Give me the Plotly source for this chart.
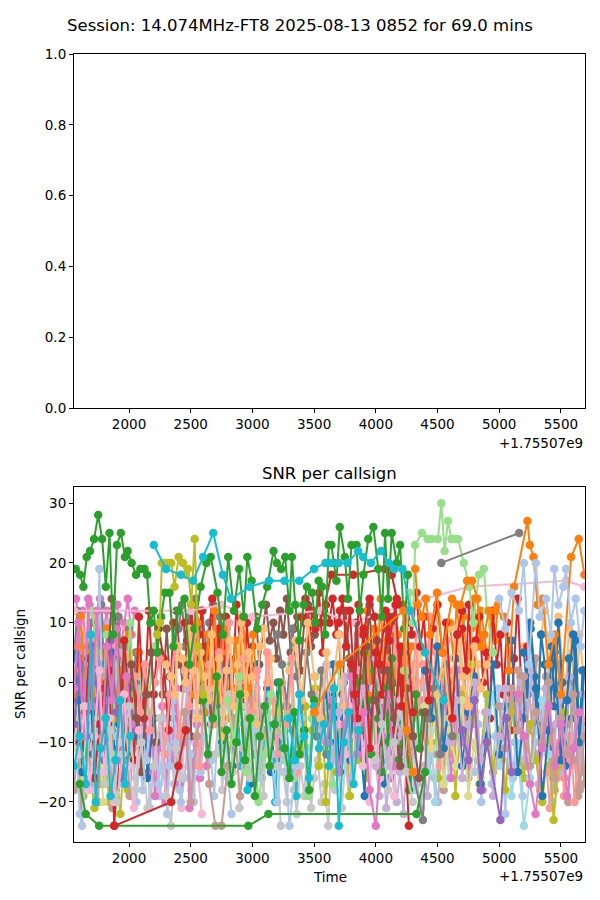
import plotly.graph_objects as go

# FT8 session decodes: time offsets (s, relative to 1.75507e9) and SNR (dB) per callsign
TIME_OFFSET_TEXT = "+1.75507e9"
TITLE = "Session: 14.074MHz-FT8 2025-08-13 0852 for 69.0 mins"

X_TICKS = [2000, 2500, 3000, 3500, 4000, 4500, 5000, 5500]
X_RANGE = [1554, 5698]
SNR_TICKS = [-20, -10, 0, 10, 20, 30]
SNR_RANGE = [-26.7, 32.7]
TOP_TICKS = [0.0, 0.2, 0.4, 0.6, 0.8, 1.0]

TAB20 = ['#1f77b4', '#aec7e8', '#ff7f0e', '#ffbb78', '#2ca02c', '#98df8a',
         '#d62728', '#ff9896', '#9467bd', '#c5b0d5', '#8c564b', '#c49c94',
         '#e377c2', '#f7b6d2', '#7f7f7f', '#c7c7c7', '#bcbd22', '#dbdb8d',
         '#17becf', '#9edae5']

CALLSIGNS = [
    'IK2NCJ', 'EA8TL', 'DL8JJ', 'G4DDL', 'F5RAV', 'ON3DI', 'OK1TN', 'SP1NY',
    'DL5YM', 'G3XTT', 'F8DGY', 'IK4QJF', 'EA4DRV', 'OK1DOY', 'SP7VC', 'PA7MM',
    'EA7KW', 'JA1XYZ', 'DL2ABC', 'G4KLM', 'IK0FTA', 'OH2BV', 'SP9MRT', 'F5NZY',
    'ON4WW', 'PA3DVN', 'OK1FMU', 'HB9CRQ', 'YO3GGX', 'UR5QW', 'LZ1ND', 'S57AA',
    'EA3HKX', 'DK9PW', 'SM5TYU', 'OE6JMD', 'I2VGL', 'CT1ELR', '9A2DJ', 'EI7BA',
    'OZ1ACB', 'HA5PP', 'YU1RA', 'LY2BBF', 'ES1QD', 'YL2UZ', 'OM3KFF', 'IZ8DPL',
    'SV1GRN', 'DJ7OO', 'GM3SEK', 'M0NWI', 'PD0JMH', 'F4GVO', 'EA1BTS', 'DF3XY',
    'OH8KN', 'SP5GDM', 'R2AQ', 'UA3SEV', 'TA1CX', '4X6UU', 'ZS6A', 'K1JT',
    'VE3NEA', 'DL1GBZ', 'G0ABC', 'F6DXE', 'IZ2OIK', 'EA5GL', 'OK2PVF', 'SP3GEM',
    'PA0RDT', 'ON7PQ', 'DK1MAX', 'HB9DHG', 'OE1VKW', 'S52AB', 'YO8RZJ', 'UR3LM',
    'LZ2HR', '9A5RB', 'EI4GNB', 'OZ7AM', 'HA8EK', 'YU7GM', 'LY1SR', 'ES5RY',
    'YL3AG', 'OM7AT', 'IW1QN', 'SV2BFN', 'DJ2YA', 'GM4FDM', 'M0OXO', 'PD1TV',
    'F4DXW',
]

COLOR_IDX = [
    14, 12, 10, 2, 3, 11, 13, 6,
    15, 9, 1, 7, 0, 8, 16, 11,
    7, 10, 3, 11, 6, 12, 1, 18, 2, 14, 9, 5, 16, 0, 11, 2,
    10, 3, 6, 11, 0, 9, 16, 19, 7, 15, 13, 4, 8, 12, 1, 17,
    0, 1, 2, 9, 5, 6, 7, 8,
    10, 11, 12, 13, 15, 14, 3, 16,
    17, 19, 0, 11, 9, 6, 3, 12,
    14, 8, 12, 7, 5, 18, 10, 1,
    4, 6, 3, 15, 13, 6, 6, 4,
    18, 4, 16, 5, 14, 2, 2, 1,
    18,
]

TIMES = [
    [2400, 2430, 2455, 2485, 2510, 2540, 2570, 2595, 2625, 2650, 2680, 2710, 2735, 2765, 2790],
    [1570, 1600, 1625, 1655, 1680, 1710, 1740, 1765, 1795, 1820, 1850, 1880, 1905, 1935, 1960, 1990, 2020, 2045],
    [3000, 3030, 3055, 3085, 3110, 3140, 3170, 3195, 3225, 3250, 3280, 3310, 3335, 3365, 3390, 3420, 3450, 3475, 3505, 3530],
    [4600, 4630, 4655, 4685, 4710, 4740, 4770, 4795, 4825, 4850, 4880, 4910, 4935, 4965, 4990],
    [5200, 5230, 5255, 5285, 5310, 5340, 5370, 5395, 5425, 5450, 5480, 5510, 5535, 5565, 5590, 5620, 5650, 5680],
    [5400, 5425, 5450, 5480, 5505, 5530, 5560, 5585, 5610, 5640, 5665, 5690],
    [2200, 2230, 2255, 2285, 2310, 2340, 2370, 2395, 2425, 2450, 2480, 2510, 2535, 2565, 2590],
    [3400, 3430, 3455, 3485, 3510, 3540, 3570, 3595, 3625, 3650, 3680, 3710],
    [3250, 3280, 3305, 3335, 3360, 3390, 3420, 3445, 3475, 3500, 3530, 3560, 3585, 3615, 3640, 3670, 3700, 3725, 3755, 3780],
    [4000, 4030, 4055, 4085, 4110, 4140, 4170, 4195, 4225, 4250, 4280, 4310, 4335, 4365, 4390, 4420, 4450, 4475, 4505, 4530],
    [2000, 2030, 2055, 2085, 2110, 2140, 2170, 2195, 2225, 2250, 2280, 2310, 2335, 2365, 2390, 2420, 2450, 2475, 2505, 2530],
    [5300, 5330, 5355, 5385, 5410, 5440, 5470, 5495, 5525, 5550, 5580, 5610, 5635, 5665, 5690],
    [2700, 2730, 2755, 2785, 2810, 2840, 2870, 2895, 2925, 2950, 2980, 3010, 3035, 3065, 3090, 3120, 3150, 3175, 3205, 3230],
    [3900, 3930, 3955, 3985, 4010, 4040, 4070, 4095, 4125, 4150, 4180, 4210, 4235, 4265, 4290],
    [1600, 1630, 1660, 1690, 1720, 1750, 1780, 1810, 1840, 1870, 1900, 1930, 1960, 1990, 2020],
    [4300, 4330, 4355, 4385, 4410, 4440, 4470, 4495, 4525, 4550, 4580, 4610, 4635, 4665, 4690, 4720, 4750, 4775, 4805, 4830],
    [1560, 1590, 1615, 1645, 1670, 1700, 1730, 1755, 1785, 1810, 1840, 1870, 1895, 1925, 1950, 1980, 2010, 2035, 2065, 2090],
    [2250, 2275, 2305, 2330, 2360, 2385, 2415, 2440, 2470, 2500, 2525, 2555, 2580, 2610, 2640, 2665, 2695, 2720, 2750, 2780],
    [1600, 1630, 1655, 1685, 1710, 1740, 1770, 1795, 1825, 1850, 1880, 1910, 1935, 1965, 1990, 2020, 2050, 2075, 2105, 2130],
    [1555, 1585, 1610, 1640, 1665, 1695, 1725, 1750, 1780, 1805, 1835, 1865, 1890, 1920, 1945, 1975, 2005, 2030, 2060, 2085],
    [2450, 2480, 2505, 2535, 2560, 2590, 2620, 2645, 2675, 2700, 2730, 2760, 2785, 2815, 2840, 2870, 2900, 2925, 2955, 2980],
    [2100, 2130, 2155, 2185, 2210, 2240, 2270, 2295, 2325, 2350, 2380, 2410, 2435, 2465, 2490, 2520, 2550, 2575, 2605, 2630],
    [2300, 2330, 2355, 2385, 2410, 2440, 2470, 2495, 2525, 2550, 2580, 2610, 2635, 2665, 2690, 2720, 2750, 2775, 2805, 2830],
    [2850, 2880, 2905, 2935, 2960, 2990, 3020, 3045, 3075, 3100, 3130, 3160, 3185, 3215, 3240, 3270, 3300, 3325, 3355, 3380],
    [2500, 2530, 2555, 2585, 2610, 2640, 2670, 2695, 2725, 2750, 2780, 2810, 2835, 2865, 2890, 2920, 2950, 2975, 3005, 3030],
    [1555, 1580, 1610, 1635, 1665, 1690, 1720, 1750, 1775, 1805, 1830, 1860, 1890, 1915, 1945, 1970, 2000, 2030, 2055, 2085],
    [1555, 1585, 1615, 1640, 1670, 1695, 1725, 1755, 1780, 1810, 1835, 1865, 1895, 1920, 1950, 1975, 2005, 2035, 2060, 2090],
    [3200, 3230, 3255, 3285, 3310, 3340, 3370, 3395, 3425, 3450, 3480, 3510, 3535, 3565, 3590, 3620, 3650, 3675, 3705, 3730],
    [3400, 3430, 3455, 3485, 3510, 3540, 3570, 3595, 3625, 3650, 3680, 3710, 3735, 3765, 3790, 3820, 3850, 3875, 3905, 3930],
    [3600, 3630, 3655, 3685, 3710, 3740, 3770, 3795, 3825, 3850, 3880, 3910, 3935, 3965, 3990, 4020, 4050, 4075, 4105, 4130],
    [3800, 3830, 3855, 3885, 3910, 3940, 3970, 3995, 4025, 4050, 4080, 4110, 4135, 4165, 4190, 4220, 4250, 4275, 4305, 4330],
    [3900, 3930, 3955, 3985, 4010, 4040, 4070, 4095, 4125, 4150, 4180, 4210, 4235, 4265, 4290],
    [3700, 3730, 3755, 3785, 3810, 3840, 3870, 3895, 3925, 3950, 3980, 4010, 4035, 4065, 4090, 4120, 4150, 4175, 4205, 4230],
    [4300, 4330, 4355, 4385, 4410, 4440, 4470, 4495, 4525, 4550, 4580, 4610, 4635, 4665, 4690, 4720, 4750, 4775, 4805, 4830],
    [4700, 4730, 4755, 4785, 4810, 4840, 4870, 4895, 4925, 4950, 4980, 5010, 5035, 5065, 5090, 5120, 5150, 5175, 5205, 5230],
    [5100, 5130, 5155, 5185, 5210, 5240, 5270, 5295, 5325, 5350, 5380, 5410, 5435, 5465, 5490, 5520, 5550, 5575, 5605, 5630, 5660, 5690],
    [5200, 5230, 5255, 5285, 5310, 5340, 5370, 5395, 5425, 5450, 5480, 5510, 5535, 5565, 5590, 5620, 5650, 5675],
    [5150, 5180, 5205, 5235, 5260, 5290, 5320, 5345, 5375, 5400, 5430, 5460, 5485, 5515, 5540, 5570, 5600, 5625, 5655, 5685],
    [4450, 4480, 4505, 4535, 4560, 4590, 4620, 4645, 4675, 4700, 4730, 4760, 4785, 4815, 4840],
    [4200, 4230, 4255, 4285, 4310, 4340, 4370, 4395, 4425, 4450, 4480, 4510, 4535, 4565, 4590],
    [4100, 4130, 4155, 4185, 4210, 4240, 4270, 4295, 4325, 4350, 4380, 4410, 4435, 4465, 4490, 4520, 4550, 4575, 4605, 4630],
    [2700, 2730, 2755, 2785, 2810, 2840, 2870, 2895, 2925, 2950, 2980, 3010, 3035, 3065, 3090, 3120, 3150, 3175, 3205, 3230],
    [3700, 3730, 3755, 3785, 3810, 3840, 3870, 3895, 3925, 3950, 3980, 4010, 4035, 4065, 4090, 4120, 4150, 4175, 4205, 4230],
    [3850, 3880, 3905, 3935, 3960, 3990, 4020, 4045, 4075, 4100, 4130, 4160, 4185, 4215, 4240, 4270, 4300, 4325, 4355, 4380],
    [1555, 1580, 1610, 1640, 1665, 1700, 1730, 1760],
    [4500, 4530, 4555, 4585, 4610, 4640, 4670, 4695, 4725, 4750, 4780, 4810, 4835, 4865, 4890],
    [4800, 4830, 4855, 4885, 4910, 4940, 4970, 4995, 5025, 5050, 5080, 5110, 5135, 5165, 5190],
    [1555, 1590, 1620, 1650, 1690, 1720, 1760, 1790],
    [1560, 1590, 1620, 1650, 1680, 1710, 1740, 1780, 1800, 1830, 1860, 1890, 1920, 1950, 1990, 2030, 2070, 2110, 2150, 2200],
    [1570, 1600, 1620, 1650, 1690, 1720, 1760, 1790, 1830, 1870, 1900, 1940, 1980, 2020, 2060, 2100, 2140, 2190, 2240, 2280],
    [1555, 1580, 1610, 1640, 1670, 1700, 1730, 1760, 1790, 1820, 1850, 1880, 1920, 1960, 2000, 2040, 2080, 2120],
    [3500, 3550, 3600, 3650, 3700, 3750, 3800, 3850, 3900, 3950, 4000, 4050, 4100, 4150, 4200, 4250, 4300],
    [1700, 1740, 1780, 1820, 1860, 1900, 1960, 2010, 2050, 2100, 2150, 2200],
    [1600, 1640, 1680, 1720, 1760, 1800, 1840, 1880, 1920, 1960, 2000, 2040, 2080, 2120, 2160, 2200, 2240, 2280, 2320, 2360],
    [2050, 2090, 2130, 2170, 2210, 2250, 2290, 2330, 2370, 2410, 2450, 2490, 2530, 2570, 2610, 2650, 2690, 2730, 2770, 2810, 2850, 2890, 2930, 2970],
    [1555, 1600, 1650, 1700, 1750, 1800, 1850, 1900, 1950, 2000, 2050],
    [1780, 1820, 1860, 1900, 1940, 1980, 2020, 2060, 2100, 2140, 2180, 2220],
    [2400, 2450, 2500, 2550, 2600, 2650, 2700, 2750, 2800, 2850, 2900, 2950, 3000, 3050, 3100],
    [1555, 1590, 1630, 1670, 1700, 1740, 1780, 1820, 1860, 1900, 1940, 1980, 2020],
    [1600, 1640, 1680, 1720, 1760, 1800, 1840, 1880, 1920, 1960, 2000, 2040, 2080],
    [1800, 1850, 1900, 1950, 2000, 2050, 2100, 2150, 2200, 2250, 2300, 2340, 2380, 2430],
    [3200, 3240, 3280, 3320, 3360, 3400, 3440, 3480, 3520, 3560, 3600, 3640],
    [2300, 2340, 2370, 2400, 2430, 2460, 2490, 2520, 2550, 2580, 2610, 2640, 2670, 2700, 2730, 2760, 2790, 2820, 2850, 2880, 2910, 2940, 2970, 3000, 3030, 3060, 3090, 3120, 3150, 3180],
    [4800, 4850, 4900, 4950, 5000, 5050, 5100, 5150, 5200, 5250, 5300, 5350, 5400, 5441, 5480, 5530],
    [4400, 4450, 4500, 4550, 4600, 4650, 4700, 4750, 4800, 4850, 4900],
    [4900, 4950, 5000, 5050, 5100, 5150, 5200, 5250, 5300, 5350, 5400],
    [4400, 4450, 4500, 4550, 4600, 4650, 4700, 4750, 4800, 4850, 4900, 4950, 5000, 5050, 5100, 5150, 5200, 5250, 5300, 5350, 5400, 5450, 5500, 5550, 5600, 5650, 5690],
    [5000, 5050, 5100, 5150, 5200, 5250, 5300, 5350, 5400, 5450, 5500, 5550, 5600, 5650, 5690],
    [4600, 4650, 4700, 4750, 4800, 4850, 4900, 4950, 5000, 5050, 5100],
    [3800, 3850, 3900, 3950, 4000, 4050, 4100, 4150, 4200, 4268],
    [3300, 3350, 3400, 3450, 3500, 3550, 3600, 3650, 3700, 3750],
    [3600, 3650, 3700, 3750, 3800, 3850, 3900, 3950, 4000, 4050, 4100, 4150],
    [4250, 4300, 4382, 4420, 4470, 4520, 4570, 4620],
    [4700, 4750, 4800, 4850, 4900, 5010, 5060, 5100],
    [5150, 5200, 5250, 5295, 5350, 5400, 5450, 5500, 5550, 5600, 5650],
    [3000, 3040, 3080, 3120, 3160, 3200, 3240, 3280, 3320, 3360],
    [2800, 2850, 2900, 2950, 3000, 3050, 3100, 3150],
    [1555, 1600, 1650, 1690, 1730, 1770, 1810, 1850, 1890, 1930, 1970, 2010],
    [4000, 4050, 4100, 4150, 4200, 4250, 4300, 4350, 4400],
    [3000, 3050, 3100, 3150, 3200, 3250, 3300, 3350, 3400, 3450],
    [1600, 1649, 1758, 2967, 3130, 4330, 4400],
    [1880, 2342, 2400, 2460],
    [4500, 4550, 4600, 4650, 4700, 4750, 4800, 4850, 4900],
    [4000, 4050, 4100, 4150, 4200, 4250, 4300],
    [1555, 2500, 2750, 3000, 3550, 3800, 4400, 4754, 5542, 5690],
    [3550, 3640, 3817, 4075, 4129, 4170, 4200, 4250, 4300],
    [3700, 3730, 3760, 3790, 3830, 3860, 3900, 3950, 3990, 4030, 4080, 4110, 4160, 4210, 4260, 4290, 4330, 4360, 4390, 4430, 4460, 4500, 4540, 4570, 4620, 4660, 4700],
    [2600, 2640, 2680, 2710, 2750, 2790, 2830, 2870, 2900, 2940, 2980, 3020, 3060, 3100, 3140, 3180, 3220, 3260, 3300, 3340, 3380, 3420, 3460, 3500],
    [3300, 3340, 3380, 3420, 3460, 3500, 3540, 3580, 3620, 3660, 3700, 3740, 3780, 3820, 3860],
    [1555, 1568, 1603, 1630, 1657, 1684, 1717, 1750, 1782, 1812, 1842, 1870, 1902, 1934, 1967, 1989, 2021, 2057, 2092, 2125,
     2146, 2173, 2200, 2230, 2260, 2290, 2328, 2360, 2400, 2450, 2490, 2530, 2580, 2627, 2662, 2717, 2760, 2804, 2850, 2893,
     2930, 2959, 2994, 3040, 3080, 3120, 3171, 3198, 3233, 3266, 3300, 3320, 3347, 3380, 3415, 3442, 3483, 3510, 3537, 3565,
     3590, 3619, 3640, 3660, 3681, 3708, 3749, 3775, 3803, 3844, 3870, 3900, 3939, 3980, 4020, 4050, 4075, 4100, 4129, 4170,
     4197, 4230, 4260],
    [2228, 2250, 2266, 2290, 2320, 2342, 2369, 2402, 2437, 2460, 2478, 2505, 2532, 2560, 2600],
    [4230, 4270, 4300, 4319, 4374, 4420, 4455, 4504, 4531, 4558, 4585, 4613, 4640, 4667, 4713, 4759, 4790, 4836, 4876, 4900, 4950],
    [4531, 5162],
    [4319, 4341, 4374, 4406, 4440, 4496, 4540, 4618, 4686, 4740, 4781, 4822, 4860, 4917, 4971, 5039, 5080, 5121, 5229, 5248,
     5278, 5311, 5352, 5400, 5450, 5500, 5583, 5645, 5691],
    [3500, 3708, 4224, 4250, 4300],
    [5000, 5050, 5100, 5160, 5200, 5240, 5297, 5330, 5380, 5420, 5447, 5480, 5520, 5542, 5580, 5620, 5660, 5690],
    [2201, 2300, 2420, 2519, 2600, 2682, 2760, 2826, 2980, 3135, 3260, 3380, 3500, 3592, 3640, 3700, 3770, 3857, 3898, 3960,
     4042, 4107, 4150, 4216, 4280, 4400, 4550],
]

SNRS = [
    [9, 13, 6, 11, 2, 14, 8, 12, 5, 10, 13, 7, 11, 3, 9],
    [14, 8, 12, 5, 13, 10, 7, 14, 9, 12, 4, 11, 13, 6, 10, 14, 8, 12],
    [6, 11, 3, 9, 13, 7, 10, 4, 12, 8, 14, 5, 9, 11, 2, 10, 13, 6, 8, 12],
    [10, 4, 13, 7, 11, 2, 9, 14, 6, 12, 8, 3, 11, 7, 13],
    [6, -1, 10, 3, -4, 8, 12, 0, 7, -3, 11, 4, -2, 9, 5, -6, 8, 2],
    [-14, -8, -18, -11, -5, -16, -20, -9, -13, -19, -7, -15],
    [-12, -18, -9, -15, -20, -11, -17, -13, -21, -8, -14, -19, -10, -16, -22],
    [11, 14, 7, 12, 9, 15, 5, 13, 10, 14, 8, 12],
    [-15, -20, -12, -18, -22, -14, -19, -11, -21, -16, -13, -20, -17, -24, -12, -18, -15, -21, -13, -19],
    [-14, -19, -11, -21, -16, -12, -20, -15, -22, -13, -18, -10, -17, -21, -14, -19, -12, -16, -20, -11],
    [-16, -10, -20, -13, -18, -8, -21, -15, -11, -19, -14, -22, -9, -17, -12, -20, -16, -10, -18, -13],
    [-12, -18, -7, -15, -21, -10, -16, -4, -19, -13, -9, -20, -14, -6, -17],
    [-5, 2, -10, -3, 4, -14, -7, 1, -11, -4, -17, -8, 3, -12, -6, -1, -15, -9, 0, -13],
    [-1, -9, 4, -6, -13, -3, -10, 2, -16, -7, -4, -12, 1, -8, -18],
    [-14, -19, -8, -16, -21, -11, -17, -13, -20, -9, -15, -22, -12, -18, -10],
    [-6, 0, -11, -3, -15, -8, 2, -12, -5, -18, -1, -9, -14, -4, -10, 1, -16, -7, -2, -13],
    [2, -6, 8, -1, -9, 4, 11, -3, 6, -12, 0, 7, -5, 3, -8, 9, 1, -4, 5, -10],
    [5, -2, 9, 1, -6, 12, 3, -1, 7, -9, 4, 10, -3, 6, 0, -7, 8, 2, -4, 5],
    [-4, 3, -9, 1, -14, 6, -2, -7, 4, -11, 0, -5, 7, -16, -3, 2, -8, 5, -12, -1],
    [-18, -9, -22, -13, -5, -17, -10, -20, -2, -15, -7, -21, -12, -4, -16, -8, -19, -11, -3, -14],
    [10, 3, 13, -2, 8, 12, -5, 6, 14, 1, 9, -7, 11, 4, -1, 13, 7, -4, 10, 2],
    [-9, -2, -15, -6, -19, -11, -4, -20, -8, -13, -1, -17, -10, -5, -21, -12, -7, -16, -3, -14],
    [-6, -14, -3, -10, -18, -8, -1, -12, -20, -5, -15, -9, -2, -13, -19, -7, -11, -4, -16, -22],
    [-10, -3, -14, -7, -18, -1, -12, -5, -16, -9, -2, -13, -20, -6, -11, -4, -15, -8, -19, -10],
    [6, -2, 10, 3, -5, 8, 0, 12, -3, 5, 9, -6, 2, 7, -1, 11, 4, -4, 8, 1],
    [4, 12, -3, 7, 0, 10, -6, 2, 13, -1, 8, -8, 3, 11, -4, 6, 9, -2, 5, -10],
    [-5, 1, -12, 7, -3, -9, 4, -15, 0, -7, 10, -11, -2, 5, -17, -6, 2, -13, -4, 3],
    [-8, -1, -13, -5, 3, -16, -9, -2, -11, -19, -6, 1, -14, -7, -3, -10, -17, -4, 2, -12],
    [-12, -4, -18, -8, -1, -14, -6, -20, -10, -3, -15, -7, 0, -11, -19, -5, -13, -2, -9, -16],
    [-2, -10, 3, -6, -15, 0, -8, -13, 2, -4, -11, -19, -1, -7, 4, -12, -5, -17, -3, -9],
    [2, -5, 8, -1, -9, 5, 0, -12, 6, -3, 9, -7, 1, -14, 4, -6, 10, -2, -10, 3],
    [5, 12, -2, 9, 3, 14, -4, 7, 11, 0, 8, -6, 13, 2, 6],
    [8, -2, 12, 4, -6, 10, 1, -9, 6, 13, -3, 7, -11, 2, 9, -5, 11, 0, -8, 5],
    [3, -4, 8, 0, -9, 6, -2, 11, -6, 2, 9, -11, 4, -1, 7, -8, 1, 10, -5, 3],
    [9, 2, 13, -3, 7, 11, 0, 5, -6, 12, 3, 8, -2, 10, -8, 4, 14, 1, -4, 6],
    [-3, -10, 2, -6, -14, -1, -8, 4, -12, -5, 1, -9, -16, -4, 3, -11, -7, 0, -13, -2, -8, -17],
    [5, -2, 9, 1, -7, 8, 3, -11, 6, -4, 10, 0, -14, 4, -6, 7, -9, 2],
    [-8, 0, -13, -4, 2, -10, -17, -6, -1, -12, -20, -7, -3, -15, -9, 1, -11, -5, -18, -2],
    [-10, -3, -16, -7, 1, -12, -5, -19, -9, -2, -14, -6, 3, -11, -17],
    [-6, -13, -2, -9, -18, -4, -11, -1, -15, -8, -20, -5, -12, -3, -16],
    [4, -3, 9, -8, 1, 6, -12, -1, 8, -5, 3, -9, 11, -2, 5, -14, 0, 7, -6, 2],
    [-12, -5, -18, -9, -2, -15, -7, -21, -11, -4, -16, -8, -1, -13, -19, -6, -10, -3, -14, -24],
    [-7, 0, -12, -4, -17, -9, 2, -14, -6, -20, -1, -11, -16, -3, -8, -13, -19, -5, -10, -2],
    [0, -8, 5, -3, -12, 2, -6, -15, -1, -10, 4, -4, -13, -7, 1, -18, -9, -2, -11, -5],
    [-1, -8, 4, -13, 0, -6, 2, -10],
    [-4, -12, -1, -8, -16, -6, 2, -10, -3, -14, -7, 0, -11, -18, -5],
    [-15, -7, -20, -11, -3, -17, -9, -1, -13, -22, -6, -16, -10, -4, -19],
    [-11, -4, -17, -8, -1, -13, -6, -20],
    [5, -3, -15, 2, -8, -12, -5, 3, -2, -10, 5, -18, -7, -1, -14, -4, -9, 0, -16, -6],
    [-10, -22, -24, -14, -6, -18, 19, -12, -3, -19, -9, -15, -5, -11, -20, -8, -13, -2, -17, -10],
    [-2, 6, 11, -1, 6, 1, -4, -5, 0, 9, 4, -6, 2, -3, 8, -7, 5, -1],
    [-2, -9, 3, -13, -5, 1, -16, -7, -1, -11, 4, -6, -14, -3, -9, 2, -12],
    [12, 5, -6, 8, -12, 3, -4, 10, -8, 1, -5, 6],
    [-10, -5, 4, -16, -7, -1, 2, -24, -11, 7, -3, -13, 11, -6, 12, -2, 9, 4, -8, 10],
    [1, -5, 3, -8, 0, 4, -12, -2, 6, -9, 2, -4, 8, -14, -1, 3, -7, 5, -3, 10, -10, 0, 4, -6],
    [-7, 3, -9, 6, -3, -13, 7, -5, -16, -1, -8],
    [-8, 0, 14, 9, -4, -12, 3, -6, -15, -2, 5, -10],
    [-13, -5, -20, -9, -1, -17, -24, -24, -14, -6, -19, -11, -3, -16, -8],
    [-1, 10, -9, 14, -4, 12, -11, 6, -3, 9, -13, 1, -7],
    [-12, -4, -18, -9, 2, -15, -6, -20, -10, -2, -14, -21, -8],
    [-17, -8, -20, -12, -4, -18, -10, -21, -14, -6, -19, -24, -11, -16],
    [8, 3, -4, 9, 1, -6, 5, -2, -9, 2, -12, -4],
    [3, 1, -2, 6, 4, 0, 9, 2, -6, 5, 1, -3, 8, -1, 4, -9, 2, 7, -4, 3, 10, -2, 5, 1, -7, 6, 9, 0, 4, -5],
    [-6, -12, -2, -15, -8, -18, -4, -11, -16, -7, -13, -20, -9, -23, -14, -5],
    [-4, -11, -1, -17, -8, -14, -3, -19, -10, -16, -5],
    [-9, -2, -14, -6, -19, -11, -24, -16, -8, -3, -12],
    [2, -6, 6, -11, -2, 4, -14, -5, 1, -17, -9, 3, -12, -4, 7, -15, -6, 10, -1, -19, -8, 5, -13, -3, 8, -10, 2],
    [-4, -11, -1, -8, 1, -14, -5, -10, 0, -16, -6, -12, -2, -18, -9],
    [-10, -3, -16, -7, 0, -13, -5, -19, -9, -1, -14],
    [3, -6, 9, -11, 5, -2, 11, -8, 6, -24],
    [2, 7, -3, 10, 1, -6, 5, -1, 8, -4],
    [-10, -3, -15, -7, 1, -12, -5, -18, -24, -9, -2, -14],
    [-8, -15, -23, -6, -1, -12, 3, -9],
    [-8, -13, -3, -18, -10, -23, -6, -15],
    [-2, -9, -17, -22, -11, -4, -14, -7, -19, -11, -5],
    [-5, 2, -9, 5, -3, -12, 0, -7, 4, -15],
    [-3, -10, 1, -15, -6, -20, -12, -2],
    [-14, -9, -17, 8, -20, -11, -6, -19, -13, -3, -17, -9],
    [-3, -10, 2, -6, -14, -1, -9, -16, -5],
    [-8, -16, -4, -12, -20, -9, -24, -14, -6, -18],
    [-17, -22, -24, -24, -22, -22, -15],
    [-24, -20, -14, -8],
    [-2, 5, -6, 9, 1, -4, 6, -1, 3],
    [-13, -7, -18, -10, -3, -15, -20],
    [12, 12, 13, 11, 12, 10, 14, 16, 17, 16],
    [10, 18, 18, 19, 18, 14, 13, 10, -5],
    [10, 14, 6, 12, -2, 13, 8, 14, 11, 3, 12, 7, 13, -4, 12, 8, 15, 6, 11, -3, 9, 13, 5, 10, -6, 8, 12],
    [-3, -12, -6, 1, -15, -8, -17, -10, -2, -13, -6, -19, -9, -4, -14, -7, 0, -11, -16, -5, -12, -8, -18, -3],
    [-6, -13, -2, -9, -16, -4, -11, -7, -14, -1, -24, -10, -5, -17, -8],
    [19, 19, 18, 16, 21, 22, 24, 28, 24, 16, 25, 8, 23, 25, 21, 22, 20, 18, 19, 19,
     18, 10, 12, 5, 11, 15, 15, 6, 12, 14, 3, 9, 16, 20, 21, 15, 8, 21, 12, 19,
     11, 21, 17, 9, 13, 16, 22, 20, 19, 21, 12, 21, 13, 7, 13, 16, 15, 10, 17, 16,
     8, 23, 23, 20, 17, 26, 21, 14, 23, 23, 12, 18, 24, 26, 19, 11, 25, 14, 25, 20,
     23, 9, 18],
    [8, 10, 20, 20, 20, 20, 16, 21, 20, 18, 19, 13, 24, 6, -2],
    [2, 15, 10, 23, 25, 24, 24, 24, 30, 22, 27, 24, 24, 24, 20, 16, 10, 18, 19, 12, 5],
    [20, 25],
    [19, 13, 11, 14, 8, 15, 5, 14, 13, 17, 17, 14, 6, 12, 12, 11, 2, 16, 27, 23,
     21, 13, 14, 3, 8, -2, 21, 24, 18],
    [-5, 3, 12, -8, -15],
    [14, 9, 15, 12, 20, 3, 20, 11, 14, 8, 19, 13, 16, 19, 10, 14, 6, 12],
    [23, 19, 18, 17, 21, 25, 18, 14, 16, 17, 17, 17, 19, 20, 20, 20, 20, 22, 21, 20,
     22, 20, 19, 19, 12, 5, -3],
]

# the page puts the figure 8 px in from the window corner
PAGE_PAD = 8
FIG_W, FIG_H = 600 - PAGE_PAD, 900 - PAGE_PAD


def px_x(px):
    return (px - PAGE_PAD) / FIG_W


def px_y(py):
    return 1 - (py - PAGE_PAD) / FIG_H


font = dict(family="DejaVu Sans", size=13.5, color="black")
title_font = dict(family="DejaVu Sans", size=16.5, color="black")

fig = go.Figure()

# empty upper panel
fig.add_trace(go.Scatter(x=[], y=[], xaxis="x", yaxis="y", showlegend=False))

for call, ci, t, s in zip(CALLSIGNS, COLOR_IDX, TIMES, SNRS):
    col = TAB20[ci]
    fig.add_trace(go.Scatter(
        x=t, y=s, name=call, mode="lines+markers",
        xaxis="x2", yaxis="y2",
        line=dict(color=col, width=2),
        marker=dict(color=col, size=8.5),
        showlegend=False,
    ))

axis_style = dict(showline=True, linecolor="black", linewidth=1.1, mirror=True,
                  ticks="outside", ticklen=4, tickwidth=1.1, tickcolor="black",
                  showgrid=False, zeroline=False, tickfont=font, automargin=False)

x_dom = [px_x(74), px_x(585.3)]

fig.update_layout(
    template="none",
    width=FIG_W, height=FIG_H,
    margin=dict(l=0, r=0, t=0, b=0),
    paper_bgcolor="white", plot_bgcolor="white",
    font=font,
    xaxis=dict(domain=x_dom, range=X_RANGE, anchor="y",
               tickvals=X_TICKS, **axis_style),
    yaxis=dict(domain=[px_y(408), px_y(54)], range=[0, 1], anchor="x",
               tickvals=TOP_TICKS, tickformat=".1f", **axis_style),
    xaxis2=dict(domain=x_dom, range=X_RANGE, anchor="y2",
                tickvals=X_TICKS, **axis_style),
    yaxis2=dict(domain=[px_y(842), px_y(487)], range=SNR_RANGE, anchor="x2",
                tickvals=SNR_TICKS, **axis_style),
    annotations=[
        dict(text=TITLE, x=px_x(300), y=px_y(26), xref="paper", yref="paper",
             showarrow=False, xanchor="center", yanchor="middle", font=title_font),
        dict(text="SNR per callsign", x=px_x(329.5), y=px_y(473), xref="paper", yref="paper",
             showarrow=False, xanchor="center", yanchor="middle", font=title_font),
        dict(text=TIME_OFFSET_TEXT, x=x_dom[1], y=px_y(443), xref="paper", yref="paper",
             showarrow=False, xanchor="right", yanchor="middle", font=font),
        dict(text=TIME_OFFSET_TEXT, x=x_dom[1], y=px_y(876), xref="paper", yref="paper",
             showarrow=False, xanchor="right", yanchor="middle", font=font),
        dict(text="Time", x=px_x(329.5), y=px_y(877), xref="paper", yref="paper",
             showarrow=False, xanchor="center", yanchor="middle", font=font),
        dict(text="SNR per callsign", x=px_x(20), y=px_y(664), xref="paper", yref="paper",
             showarrow=False, xanchor="center", yanchor="middle", textangle=-90, font=font),
    ],
)

fig.write_html("out.html")
